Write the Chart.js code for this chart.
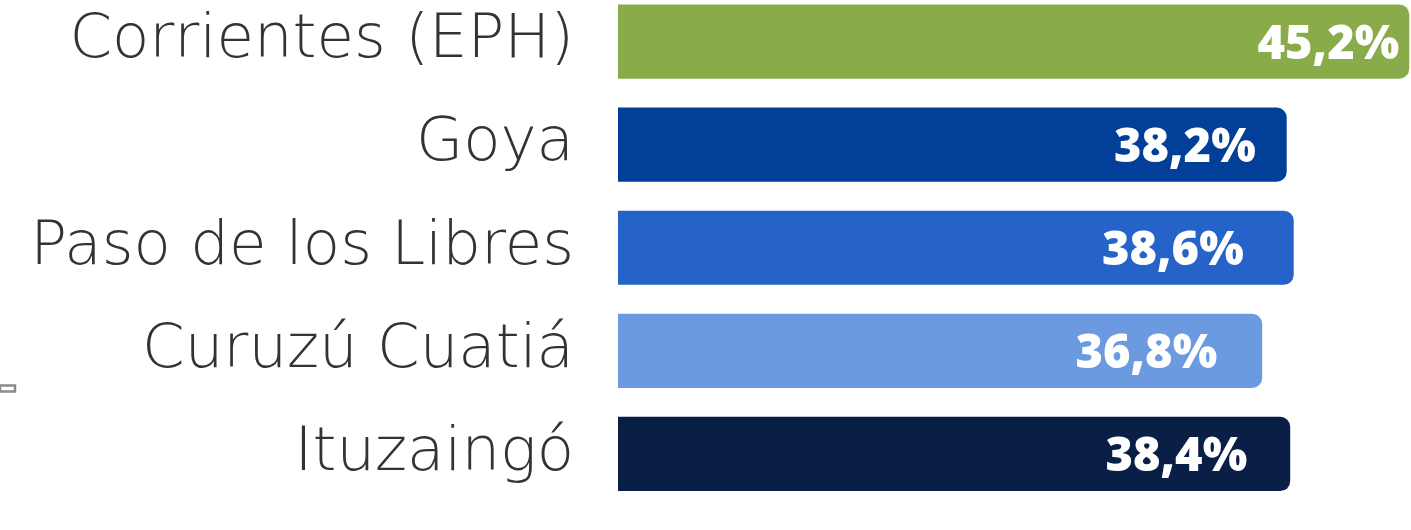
<!DOCTYPE html>
<html>
<head>
<meta charset="utf-8">
<script src="https://cdn.jsdelivr.net/npm/chart.js@4"></script>
<style>
  html, body { margin: 0; padding: 0; background: #ffffff; overflow: hidden; }
  #wrap { width: 1411px; height: 530px; position: relative; overflow: hidden; }
  #inner { position: absolute; left: 0; top: -10px; width: 1411px; height: 540px; }
</style>
</head>
<body>
<div id="wrap"><div id="inner"><canvas id="c"></canvas></div></div>
<script>
const categories = ['Corrientes (EPH)', 'Goya', 'Paso de los Libres', 'Curuzú Cuatiá', 'Ituzaingó'];
const values = [45.2, 38.2, 38.6, 36.8, 38.4];
const barColors = ['#8aab4a', '#013f99', '#2563c9', '#6b9ae1', '#0a1f46'];
// distance (px) between the bar end and the right edge of its value label
const labelInsets = [10, 31, 50, 45, 43];

const fmt = v => v.toFixed(1).replace('.', ',') + '%';

const valueLabelPlugin = {
  id: 'valueLabels',
  afterDatasetsDraw(chart) {
    const ctx = chart.ctx;
    const meta = chart.getDatasetMeta(0);
    ctx.save();
    ctx.fillStyle = '#ffffff';
    ctx.font = '800 47px "Open Sans"';
    ctx.textAlign = 'right';
    ctx.textBaseline = 'alphabetic';
    meta.data.forEach((el, i) => {
      const xEnd = Math.min(el.x, chart.chartArea.right);
      ctx.fillText(fmt(values[i]), xEnd - labelInsets[i], el.y + 17);
    });
    // small grey mark at the left edge
    ctx.strokeStyle = '#8c8c8c';
    ctx.lineWidth = 2.5;
    ctx.strokeRect(0, 395.5, 15, 6);
    ctx.restore();
  }
};

new Chart(document.getElementById('c'), {
  type: 'bar',
  data: {
    labels: categories,
    datasets: [{
      data: values,
      backgroundColor: barColors,
      borderRadius: 10,
      borderSkipped: 'start',
      categoryPercentage: 1.0,
      barPercentage: 0.72
    }]
  },
  options: {
    indexAxis: 'y',
    responsive: true,
    maintainAspectRatio: false,
    animation: false,
    layout: { padding: { top: 0, bottom: 24.5, left: 0, right: 0 } },
    plugins: { legend: { display: false }, tooltip: { enabled: false } },
    scales: {
      x: { display: false, min: 0, max: 45.3 },
      y: {
        grid: { display: false },
        border: { display: false },
        afterFit(scale) {
          scale.width = 618;
          scale.paddingTop = 0;
          scale.paddingBottom = 0;
        },
        ticks: {
          color: '#333333',
          padding: 36,
          font: { family: 'DejaVu Sans', weight: 200, size: 61 }
        }
      }
    }
  },
  plugins: [valueLabelPlugin]
});
</script>
</body>
</html>
